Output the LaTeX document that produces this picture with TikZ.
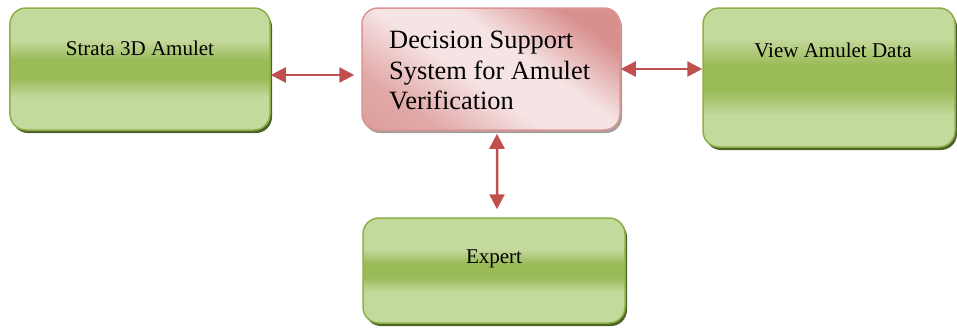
\documentclass[tikz,border=0pt]{standalone}
\usepackage{fontspec}
\setmainfont{Liberation Serif}
\newfontfamily\tnr{Liberation Serif}
\usetikzlibrary{arrows.meta,calc}
\definecolor{gLight}{HTML}{C4D99C}
\definecolor{gMid}{HTML}{9BBB59}
\definecolor{gEdge}{HTML}{8DAF48}
\definecolor{gShadow}{HTML}{4F6228}
\definecolor{pDark}{HTML}{D8908E}
\definecolor{pLight}{HTML}{F6E4E4}
\definecolor{pEdge}{HTML}{D99694}
\definecolor{pShadow}{HTML}{A89C9C}
\definecolor{arrowred}{HTML}{C0504D}
\pgfdeclareverticalshading{greenL}{100bp}{color(0bp)=(gLight); color(38.2bp)=(gLight); color(46.1bp)=(gMid); color(53.9bp)=(gMid); color(61.8bp)=(gLight); color(100bp)=(gLight)}
\pgfdeclareverticalshading{greenR}{100bp}{color(0bp)=(gLight); color(36.1bp)=(gLight); color(45.4bp)=(gMid); color(54.6bp)=(gMid); color(63.9bp)=(gLight); color(100bp)=(gLight)}
\pgfdeclareverticalshading{greenE}{100bp}{color(0bp)=(gLight); color(39.9bp)=(gLight); color(46.6bp)=(gMid); color(53.4bp)=(gMid); color(60.1bp)=(gLight); color(100bp)=(gLight)}
\pgfdeclareverticalshading{pinkfill}{100bp}{color(0bp)=(pDark); color(28bp)=(pDark!70!pLight); color(45bp)=(pLight); color(58bp)=(pLight); color(75bp)=(pDark); color(100bp)=(pDark)}
\begin{document}
\begin{tikzpicture}[x=1bp,y=-1bp,
  gbox/.style={draw=gEdge, line width=1.5bp, rounded corners=16bp,
    shading=#1,
    preaction={fill=gShadow, transform canvas={xshift=2bp,yshift=-3bp}},
    inner sep=0pt},
  pbox/.style={draw=pEdge, line width=1.5bp, rounded corners=16bp,
    shading=pinkfill, shading angle=-35,
    preaction={fill=pShadow, transform canvas={xshift=2bp,yshift=-3bp}},
    inner sep=0pt},
  lbl/.style={font=\tnr\fontsize{21bp}{25bp}\selectfont, inner sep=0pt, text=black},
  biglbl/.style={font=\tnr\fontsize{26.4bp}{30.5bp}\selectfont, inner sep=0pt, text=black, align=left},
  arr/.style={draw=arrowred, line width=2.5bp,
    {Triangle[length=15bp,width=15bp]}-{Triangle[length=15bp,width=15bp]}}
]
\useasboundingbox (0,0) rectangle (957,329);
\node[gbox=greenL, minimum width=260bp, minimum height=122bp] (L) at (140,69) {};
\node[pbox, minimum width=258bp, minimum height=122bp] (D) at (491,69) {};
\node[gbox=greenR, minimum width=252bp, minimum height=139bp] (R) at (829,77.5) {};
\node[gbox=greenE, minimum width=262bp, minimum height=105bp] (E) at (494,270.5) {};
\node[lbl, anchor=base] (Lt) at (140,55) {Strata 3D Amulet};
\node[lbl, anchor=base] (Rt) at (833,57) {View Amulet Data};
\node[lbl, anchor=base] (Et) at (494,263) {Expert};
\node[biglbl, anchor=north west] (Dt) at (389,31) {Decision Support\\System for Amulet\\Verification};
\draw[arr] ([yshift=-6bp]L.east) -- ([yshift=-6bp,xshift=-7bp]D.west);
\draw[arr] (D.east) -- (D.east -| R.west);
\draw[arr] ([xshift=6bp,yshift=-3bp]D.south) -- ([xshift=3bp,yshift=8bp]E.north);
\end{tikzpicture}
\end{document}
